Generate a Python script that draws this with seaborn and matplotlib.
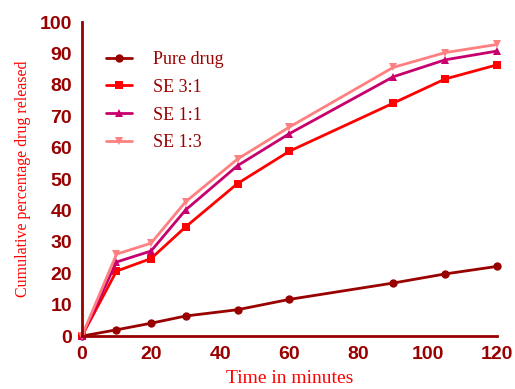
import matplotlib
matplotlib.use("Agg")
from matplotlib import pyplot as plt
import seaborn as sns
import pandas as pd

# release data
time_min = [0, 10, 20, 30, 45, 60, 90, 105, 120]
pure_drug = [0, 2.0, 4.1, 6.4, 8.4, 11.7, 16.9, 19.8, 22.2]
se_3_1 = [0, 20.7, 24.7, 34.8, 48.6, 58.9, 74.2, 81.9, 86.4]
se_1_1 = [0, 23.6, 27.1, 40.2, 54.3, 64.5, 82.6, 88.0, 90.8]
se_1_3 = [0, 26.1, 29.6, 42.8, 56.4, 66.6, 85.6, 90.3, 92.9]
series_names = ['Pure drug', 'SE 3:1', 'SE 1:1', 'SE 1:3']

axis_col = '#990000'
colors = {'Pure drug': '#990000', 'SE 3:1': '#FF0000', 'SE 1:1': '#C8006E', 'SE 1:3': '#FF8080'}
markers = {'Pure drug': 'o', 'SE 3:1': 's', 'SE 1:1': '^', 'SE 1:3': 'v'}

rows = []
for name, vals in zip(series_names, [pure_drug, se_3_1, se_1_1, se_1_3]):
    for t, v in zip(time_min, vals):
        rows.append({'time': t, 'release': v, 'formulation': name})
df = pd.DataFrame(rows)

sns.set_style("white")
fig = plt.figure(figsize=(5.15, 3.89), dpi=100)
ax = fig.add_axes([0.159, 0.136, 0.806, 0.807])

sns.lineplot(data=df, x='time', y='release', hue='formulation', style='formulation',
             palette=colors, markers=markers, dashes=False, hue_order=series_names,
             style_order=series_names, linewidth=2, markersize=6, markeredgewidth=0,
             ax=ax, clip_on=False)

ax.set_xlim(0, 120)
ax.set_ylim(0, 100)
ax.set_xticks(range(0, 121, 20))
ax.set_yticks(range(0, 101, 10))

for side in ['top', 'right']:
    ax.spines[side].set_visible(False)
for side in ['left', 'bottom']:
    ax.spines[side].set_color(axis_col)
    ax.spines[side].set_linewidth(2)
ax.tick_params(axis='both', colors=axis_col, width=2, length=5, direction='out',
               labelsize=14, pad=2)
for lab in ax.get_xticklabels() + ax.get_yticklabels():
    lab.set_fontweight('bold')
    lab.set_fontfamily('Liberation Sans')

ax.set_xlabel('Time in minutes', color='#FF0000', fontsize=14, family='Liberation Serif', labelpad=5)
ax.set_ylabel('Cumulative percentage drug released', color='#FF0000', fontsize=11.5,
              family='Liberation Serif', labelpad=6)

handles, labels = ax.get_legend_handles_labels()
leg = ax.legend(handles, labels, loc='upper left', bbox_to_anchor=(0.02, 0.96), frameon=False,
                prop={'family': 'Liberation Serif', 'size': 13}, labelspacing=0.6,
                handlelength=1.4, handletextpad=1.2)
for txt in leg.get_texts():
    txt.set_color(axis_col)

fig.savefig('out.png', dpi=100)
